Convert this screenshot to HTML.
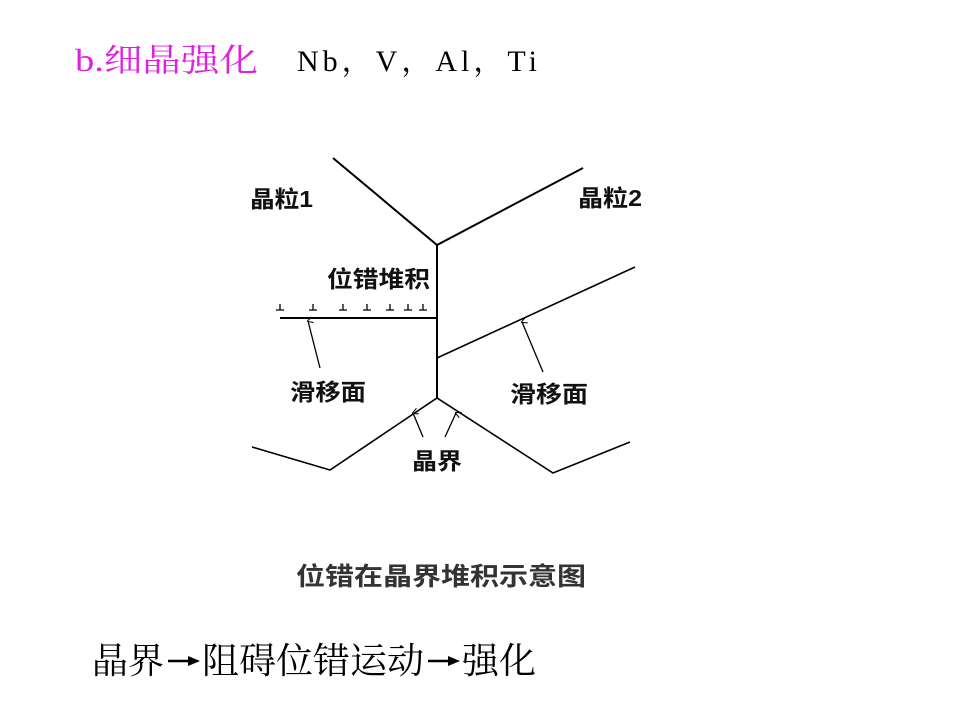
<!DOCTYPE html>
<html><head><meta charset="utf-8"><style>
html,body{margin:0;padding:0;background:#fff;width:960px;height:720px;overflow:hidden}
svg{display:block}
.s{font-family:"Liberation Sans","Noto Sans CJK SC",sans-serif}
.r{font-family:"Liberation Serif","Noto Serif CJK SC",serif}
</style></head><body>
<svg width="960" height="720" xmlns="http://www.w3.org/2000/svg">
<defs><marker id="a" markerWidth="8" markerHeight="8" refX="4" refY="1" orient="auto-start-reverse" markerUnits="userSpaceOnUse"><path d="M1,6 L4,0 L7,6" fill="none" stroke="#000" stroke-width="1"/></marker></defs>
<text class="r" x="75" y="71" font-size="32" fill="#e020e0" textLength="183" lengthAdjust="spacingAndGlyphs">b.细晶强化</text>
<text class="r" x="297" y="71" font-size="30" fill="#000" textLength="240" lengthAdjust="spacing">Nb，V，Al，Ti</text>
<g stroke="#000" stroke-width="2" fill="none">
<polyline points="333,158 437,245 583,168"/>
<line x1="437" y1="245" x2="437" y2="398"/>
<line x1="280" y1="318" x2="437" y2="318"/>
<line x1="437" y1="358" x2="635" y2="267" stroke-width="1.6"/>
<polyline points="252,447 330,470 437,398 553,473 630,442" stroke-width="1.6"/>
</g>
<g stroke="#000" stroke-width="1.3" fill="none">
<line x1="320" y1="368" x2="308" y2="321" marker-end="url(#a)"/>
<line x1="543" y1="372" x2="522" y2="322" marker-end="url(#a)"/>
<line x1="423" y1="437" x2="413" y2="413" marker-end="url(#a)"/>
<line x1="445" y1="437" x2="456" y2="413" marker-end="url(#a)"/>
</g>
<g stroke="#000" stroke-width="1.3">
<path d="M276,310h8M280,310v-6 M309,310h8M313,310v-6 M339,310h8M343,310v-6 M363,310h8M367,310v-6 M386,310h8M390,310v-6 M404,310h8M408,310v-6 M419,310h8M423,310v-6"/>
</g>
<g class="s" font-size="23" font-weight="bold" fill="#111">
<text x="250" y="207" textLength="63" lengthAdjust="spacingAndGlyphs">晶粒1</text>
<text x="578" y="206" textLength="64" lengthAdjust="spacingAndGlyphs">晶粒2</text>
<text x="327" y="287" textLength="103" lengthAdjust="spacingAndGlyphs">位错堆积</text>
<text x="290" y="400" textLength="76" lengthAdjust="spacingAndGlyphs">滑移面</text>
<text x="510" y="402" textLength="78" lengthAdjust="spacingAndGlyphs">滑移面</text>
<text x="412" y="469" textLength="50" lengthAdjust="spacingAndGlyphs">晶界</text>
</g>
<text class="s" x="296" y="585" font-size="25" font-weight="bold" fill="#333" textLength="290" lengthAdjust="spacingAndGlyphs">位错在晶界堆积示意图</text>
<g class="r" font-size="36" fill="#000">
<text x="92" y="673" textLength="72" lengthAdjust="spacingAndGlyphs">晶界</text>
<text x="202" y="673" textLength="222" lengthAdjust="spacingAndGlyphs">阻碍位错运动</text>
<text x="462" y="673" textLength="74" lengthAdjust="spacingAndGlyphs">强化</text>
</g>
<g stroke="#000" stroke-width="2.5" fill="#000">
<line x1="168" y1="661" x2="192" y2="661"/><path d="M200,661 L188,656 L188,666Z" stroke="none"/>
<line x1="428" y1="661" x2="452" y2="661"/><path d="M460,661 L448,656 L448,666Z" stroke="none"/>
</g>
</svg>
</body></html>
